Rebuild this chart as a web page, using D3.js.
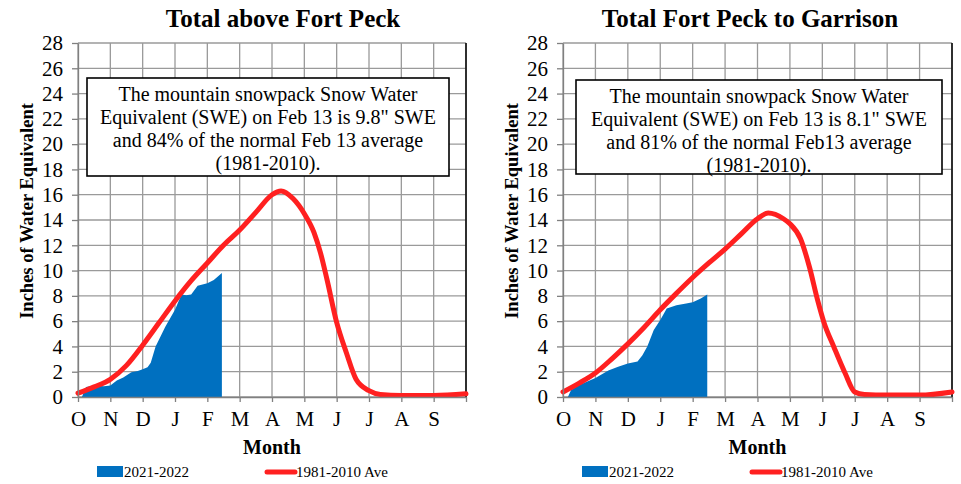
<!DOCTYPE html>
<html>
<head>
<meta charset="utf-8">
<script src="https://cdn.jsdelivr.net/npm/d3@7"></script>
<style>
body { margin: 0; background: #fff; }
svg { display: block; font-family: "Liberation Serif", "Times New Roman", serif; }
</style>
</head>
<body>
<div id="chart"></div>
<script>
// month labels along the water year, Oct..Sep
var months = ["O", "N", "D", "J", "F", "M", "A", "M", "J", "J", "A", "S"];
var yTicks = [0, 2, 4, 6, 8, 10, 12, 14, 16, 18, 20, 22, 24, 26, 28];

// Total above Fort Peck (x = months since Oct 1)
var avgLeftX = [0, 0.5, 1, 1.5, 2, 2.5, 3, 3.5, 4, 4.5, 5, 5.5, 6, 6.28, 6.65, 7, 7.3, 7.5, 7.7, 8, 8.3, 8.6, 9, 9.35, 10, 11, 12];
var avgLeft  = [0.3, 0.8, 1.4, 2.5, 4.1, 5.85, 7.6, 9.2, 10.6, 12.0, 13.2, 14.6, 16.0, 16.3, 15.7, 14.5, 13.0, 11.4, 9.3, 5.9, 3.5, 1.4, 0.5, 0.2, 0.12, 0.12, 0.25];
var snowLeftX = [0.12, 0.25, 0.5, 0.8, 1.0, 1.2, 1.4, 1.65, 1.85, 2.0, 2.15, 2.25, 2.4, 2.7, 3.0, 3.2, 3.35, 3.5, 3.7, 4.0, 4.2, 4.45];
var snowLeft  = [0, 0.8, 0.9, 0.85, 0.9, 1.3, 1.55, 1.95, 2.05, 2.2, 2.35, 2.7, 4.0, 5.55, 6.9, 8.1, 8.05, 8.1, 8.8, 9.0, 9.25, 9.8];

// Total Fort Peck to Garrison
var avgRightX = [0, 0.5, 1, 1.5, 2, 2.5, 3, 3.5, 4, 4.5, 5, 5.5, 6, 6.33, 6.8, 7, 7.33, 7.6, 7.85, 8.05, 8.35, 8.7, 9, 9.3, 10, 11, 12];
var avgRight  = [0.4, 1.1, 1.9, 3.0, 4.2, 5.5, 6.9, 8.2, 9.45, 10.6, 11.7, 12.9, 14.1, 14.55, 14.1, 13.7, 12.5, 10.3, 7.7, 5.9, 4.0, 1.9, 0.4, 0.2, 0.15, 0.15, 0.4];
var snowRightX = [0.15, 0.25, 0.5, 1.0, 1.4, 1.7, 2.0, 2.3, 2.45, 2.6, 2.8, 3.0, 3.2, 3.5, 3.8, 4.0, 4.25, 4.45];
var snowRight  = [0, 0.55, 0.95, 1.5, 2.1, 2.4, 2.65, 2.8, 3.3, 4.0, 5.3, 6.1, 7.0, 7.25, 7.4, 7.5, 7.8, 8.1];

var seriesNames = ["2021-2022", "1981-2010 Ave"];
var titles = ["Total above Fort Peck", "Total Fort Peck to Garrison"];
var notes = [
	["The mountain snowpack Snow Water", "Equivalent (SWE) on Feb 13 is 9.8\" SWE", "and 84% of the normal Feb 13 average", "(1981-2010)."],
	["The mountain snowpack Snow Water", "Equivalent (SWE) on Feb 13 is 8.1\" SWE", "and 81% of the normal Feb13 average", "(1981-2010)."]
];

var W = 961, H = 484;
var BLUE = "#0070c0", RED = "#ff2020";

var svg = d3.select("#chart").append("svg")
	.attr("width", W)
	.attr("height", H);

function zip(xs, ys){
	return xs.map(function(x, i){ return {m: x, v: ys[i]}; });
}

function drawPanel(p){
	var x = d3.scaleLinear().domain([0, 12]).range([p.left, p.right]);
	var y = d3.scaleLinear().domain([0, 28]).range([397, 43]);
	var g = svg.append("g");

	// grid
	g.selectAll("line.hg").data(yTicks).enter().append("line")
		.attr("x1", p.left).attr("x2", p.right)
		.attr("y1", function(d){ return y(d); })
		.attr("y2", function(d){ return y(d); })
		.attr("stroke", "#9a9a9a").attr("stroke-width", 1.3);
	g.selectAll("line.vg").data(d3.range(13)).enter().append("line")
		.attr("x1", function(d){ return x(d); })
		.attr("x2", function(d){ return x(d); })
		.attr("y1", y(28)).attr("y2", y(0))
		.attr("stroke", "#9a9a9a").attr("stroke-width", 1.3);
	g.append("line")
		.attr("x1", p.right).attr("x2", p.right)
		.attr("y1", y(28)).attr("y2", y(0))
		.attr("stroke", "#000").attr("stroke-width", 1.5);

	// snowpack area
	var snow = zip(p.snowX, p.snow);
	var area = d3.area()
		.x(function(d){ return x(d.m); })
		.y0(y(0))
		.y1(function(d){ return y(d.v); });
	g.append("path").datum(snow)
		.attr("d", area)
		.attr("fill", BLUE);

	// normal line
	var line = d3.line()
		.x(function(d){ return x(d.m); })
		.y(function(d){ return y(d.v); })
		.curve(d3.curveMonotoneX);
	g.append("path").datum(zip(p.avgX, p.avg))
		.attr("d", line)
		.attr("fill", "none")
		.attr("stroke", RED)
		.attr("stroke-width", 5)
		.attr("stroke-linecap", "round")
		.attr("stroke-linejoin", "round");

	// axes
	var ya = g.append("g")
		.attr("transform", "translate(" + p.left + ",0)")
		.call(d3.axisLeft(y).tickValues(yTicks).tickSize(6).tickPadding(9).tickSizeOuter(0));
	var xa = g.append("g")
		.attr("transform", "translate(0," + y(0) + ")")
		.call(d3.axisBottom(x).tickValues(d3.range(13)).tickSize(5).tickPadding(9).tickSizeOuter(0)
			.tickFormat(function(d){ return months[d] || ""; }));
	[ya, xa].forEach(function(a){
		a.selectAll("text").attr("font-family", "Liberation Serif").attr("font-size", 21).attr("fill", "#000");
		a.selectAll("line").attr("stroke", "#808080").attr("stroke-width", 1.3);
		a.select(".domain").attr("stroke", "#808080").attr("stroke-width", 1.3);
	});

	// note box
	g.append("rect")
		.attr("x", p.box[0]).attr("y", p.box[1])
		.attr("width", p.box[2] - p.box[0]).attr("height", p.box[3] - p.box[1])
		.attr("fill", "#fff").attr("stroke", "#000").attr("stroke-width", 1.6);
	var cx = (p.box[0] + p.box[2]) / 2;
	g.selectAll("text.note").data(p.note).enter().append("text")
		.attr("x", cx)
		.attr("y", function(d, i){ return p.box[1] + 23 + i * 23; })
		.attr("text-anchor", "middle")
		.attr("font-size", 20)
		.text(function(d){ return d; });

	// titles
	g.append("text")
		.attr("x", p.titleX).attr("y", 27)
		.attr("text-anchor", "middle")
		.attr("font-size", 25).attr("font-weight", "bold")
		.text(p.title);
	g.append("text")
		.attr("x", (p.left + p.right) / 2).attr("y", 454)
		.attr("text-anchor", "middle")
		.attr("font-size", 20).attr("font-weight", "bold")
		.text("Month");
	g.append("text")
		.attr("transform", "translate(" + (p.left - 45) + ",211) rotate(-90)")
		.attr("text-anchor", "middle")
		.attr("font-size", 18.5).attr("font-weight", "bold")
		.text("Inches of Water Equivalent");

	// legend
	g.append("rect")
		.attr("x", p.legX).attr("y", 466)
		.attr("width", 26).attr("height", 11)
		.attr("fill", BLUE);
	g.append("text")
		.attr("x", p.legX + 27).attr("y", 477)
		.attr("font-size", 15)
		.text(seriesNames[0]);
	g.append("line")
		.attr("x1", p.legX + 170).attr("x2", p.legX + 198)
		.attr("y1", 472).attr("y2", 472)
		.attr("stroke", RED).attr("stroke-width", 5).attr("stroke-linecap", "round");
	g.append("text")
		.attr("x", p.legX + 199).attr("y", 477)
		.attr("font-size", 15)
		.text(seriesNames[1]);
}

drawPanel({
	left: 78, right: 466, title: titles[0], titleX: 283,
	avgX: avgLeftX, avg: avgLeft, snowX: snowLeftX, snow: snowLeft,
	box: [87, 78, 449, 176], note: notes[0], legX: 97
});
drawPanel({
	left: 563, right: 952, title: titles[1], titleX: 750,
	avgX: avgRightX, avg: avgRight, snowX: snowRightX, snow: snowRight,
	box: [576, 80, 942, 174], note: notes[1], legX: 582
});
</script>
</body>
</html>
